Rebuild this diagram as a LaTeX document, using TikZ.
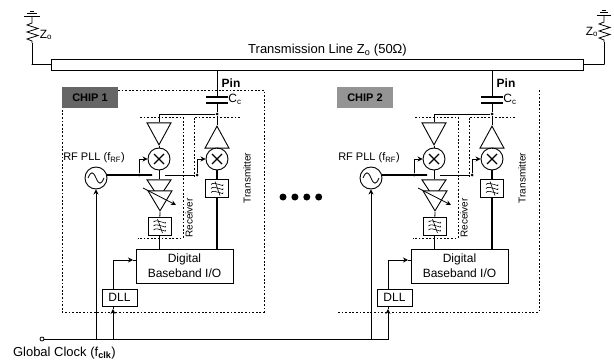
\documentclass[tikz,border=0pt]{standalone}
\usepackage{fontspec}
\setmainfont{Liberation Sans}
\usetikzlibrary{positioning,shapes,shapes.geometric,arrows.meta}

\begin{document}
\begin{tikzpicture}[x=1pt,y=-1pt,
    >={Stealth[length=5pt,width=5pt]},
    every node/.style={font=\fontsize{12}{15}\selectfont},
    wire/.style={line width=0.8pt},
    bus/.style={line width=1.7pt},
    ddot/.style={line width=0.8pt, dash pattern=on 1.8pt off 1.8pt},
    bb/.style={%
      rectangle, draw=black, line width=0.9pt, fill=white,
      inner sep=0pt, align=center
    },
    chiptag/.style={%
      rectangle, draw=none, minimum width=56pt, minimum height=21pt,
      inner sep=0pt, font=\fontsize{11}{12}\bfseries\selectfont
    },
    amp/.style={%
      isosceles triangle, isosceles triangle stretches, draw=black, line width=0.9pt,
      fill=white, minimum width=24pt, minimum height=22pt, inner sep=0pt, anchor=apex
    },
    ampup/.style={amp, shape border rotate=90},
    ampdn/.style={amp, shape border rotate=-90},
    mixer/.style={%
      circle, draw=black, line width=0.9pt, fill=white, minimum size=22pt, inner sep=0pt,
      path picture={%
        \draw[line width=1.3pt]
          ([shift={(-5,-5)}]path picture bounding box.center) -- ([shift={(5,5)}]path picture bounding box.center)
          ([shift={(-5,5)}]path picture bounding box.center) -- ([shift={(5,-5)}]path picture bounding box.center);
      }
    },
    osc/.style={%
      circle, draw=black, line width=0.9pt, fill=white, minimum size=22pt, inner sep=0pt,
      path picture={%
        \draw[line width=0.8pt] ([shift={(-8,0)}]path picture bounding box.center)
          .. controls +(3,-7) and +(-3,-7) .. ([shift={(0,0)}]path picture bounding box.center)
          .. controls +(3,7) and +(-3,7) .. ([shift={(8,0)}]path picture bounding box.center);
      }
    },
    filt/.style={%
      bb, minimum width=23pt, minimum height=18pt,
      path picture={%
        \foreach \dy in {-4,0,4} {
          \draw[line width=0.6pt] ([shift={(-6,\dy)}]path picture bounding box.center)
            .. controls +(3,-4) and +(3,4) .. ([shift={(6,\dy)}]path picture bounding box.center);
        }
        \draw[line width=0.6pt] ([shift={(-2,-7)}]path picture bounding box.center) -- ([shift={(3,7)}]path picture bounding box.center);
      }
    },
    jdot/.style={circle, fill=black, minimum size=3pt, inner sep=0pt},
    hollow/.style={circle, draw=black, line width=0.8pt, fill=white, minimum size=4pt, inner sep=0pt},
    bigdot/.style={circle, fill=black, minimum size=7pt, inner sep=0pt},
    plate/.style={line width=1.4pt},
    vtext/.style={rotate=90, font=\fontsize{10}{11}\selectfont}
]
    \useasboundingbox (0,0) rectangle (614,361);

    \node[bb, minimum width=532pt, minimum height=11.5pt] (tline) at (317,64.75) {};
    \node[font=\fontsize{13}{15}\selectfont] (tlabel) at (327.5,50) {Transmission Line Z\textsubscript{o} (50Ω)};

    % terminations
    \coordinate (gl) at (32,16);
    \coordinate (rl) at (32,43);
    \coordinate (gr) at (604,15);
    \coordinate (rr) at (604,42);
    \draw[wire] (tline.west) -- ++(-19,0) -| (rl);
    \draw[wire] (tline.east) -- ++(21,0) -| (rr);
    \draw[wire] (rl) -- ++(0,-2) -- ++(-5,-2) -- ++(11,-3.5) -- ++(-11,-3.5) -- ++(11,-3.5) -- ++(-11,-3.5) -- ++(5,-2) -- (gl);
    \draw[wire] (rr) -- ++(0,-2) -- ++(-5,-2) -- ++(11,-3.5) -- ++(-11,-3.5) -- ++(11,-3.5) -- ++(-11,-3.5) -- ++(5,-2) -- (gr);
    \draw[wire] (gl) ++(-8,0) -- ++(16,0) (gl) ++(-5,-3) -- ++(10,0) (gl) ++(-2,-5) -- ++(4,0);
    \draw[wire] (gr) ++(-7,0) -- ++(14,0) (gr) ++(-4,-3) -- ++(8,0) (gr) ++(-2,-5) -- ++(4,0);
    \node (zl) at (46,35) {Z\textsubscript{o}};
    \node (zr) at (592,32) {Z\textsubscript{o}};

    % clock
    \node[hollow] (clk) at (42,339) {};
    \coordinate (clkend) at (388,340);
    \node[font=\fontsize{13}{15}\selectfont] (clklabel) [anchor=west] at (9.5,353) {Global Clock (f\textsubscript{\textbf{clk}})};
    \draw[line width=1pt] (clk) -- (clk -| clkend) -- (clkend);

    % the two chips
    \foreach \c/\dx in {a/0,b/275} {
      \begin{scope}[xshift=\dx pt]
        \coordinate (tap\c) at (217,70.5);
        \coordinate (capt\c) at (217,97);
        \coordinate (capb\c) at (217,103);
        \coordinate (lol\c) at (152,175);
        \coordinate (lor\c) at (165,175);
        \coordinate (tapo\c) at (96,340);
        \coordinate (tapd\c) at (113,340);
        \coordinate (tipd\c) at (113,309);
        \coordinate (tipb\c) at (133,260);

        \node[jdot] (jtop\c) at (217,114) {};
        \node[ampdn] (rxamp\c) at (159,146) {};
        \node[ampup] (txamp\c) at (217,125) {};
        \node[mixer] (mixrx\c) at (159,159) {};
        \node[mixer] (mixtx\c) at (217,159) {};
        \node[osc] (vco\c) at (96,178) {};
        \node[jdot] (jrx\c) at (139,175) {};
        \node[jdot] (jtx\c) at (197,175) {};
        \node[ampdn, minimum height=18pt] (lnaa\c) at (159,199) {};
        \node[ampdn, minimum height=20pt] (lnab\c) at (160,212) {};
        \node[filt] (firx\c) at (159.5,226) {};
        \node[filt] (fitx\c) at (217,188.5) {};
        \node[bb, minimum width=97pt, minimum height=34pt] (dbb\c) at (184.5,266) {Digital\\Baseband I/O};
        \node[bb, minimum width=35pt, minimum height=17pt] (dll\c) at (119.5,297.5) {DLL};

        \node (pin\c) at (231,83) {\textbf{Pin}};
        \node (cc\c) at (235,99) {C\textsubscript{c}};
        \node[font=\fontsize{11}{13}\selectfont] (pll\c) at (94,158) {RF PLL (f\textsubscript{RF})};
        \node[vtext] (rxl\c) at (189,218) {Receiver};
        \node[vtext] (txl\c) at (247,178) {Transmitter};

        \draw[wire] (tap\c) -- (capt\c);
        \draw[wire] (capb\c) -- (jtop\c);
        \draw[wire] (jtop\c) -- (txamp\c.apex);
        \draw[wire] (jtop\c) -| (rxamp\c.lower side);
        \draw[plate] (capt\c) ++(-11,0) -- ++(22,0);
        \draw[plate] (capb\c) ++(-11,0) -- ++(22,0);
        \draw[wire] (rxamp\c.apex) -- (mixrx\c);
        \draw[wire] (txamp\c.lower side) -- (mixtx\c);
        \draw[wire] (mixrx\c) -- (lnaa\c.lower side);
        \draw[wire] (lnab\c.apex) -- (firx\c);
        \draw[bus] (firx\c) -- (firx\c |- dbb\c.north);
        \draw[bus] (mixtx\c) -- (fitx\c);
        \draw[bus] (fitx\c) -- (fitx\c |- dbb\c.north);
        \draw[bus] (vco\c.15) -- (lol\c);
        \draw[wire] (lor\c) -- (jtx\c);
        \draw[wire,->] (jrx\c) |- (mixrx\c);
        \draw[wire,->] (jtx\c) |- (mixtx\c);
        \draw[wire,->] (tapo\c) -- (vco\c);
        \draw[wire,->] (tapd\c) -- (tipd\c);
        \draw[wire] (tipd\c) -- (tapd\c |- dll\c.south);
        \draw[wire,->] (tapd\c |- dll\c.north) |- (tipb\c);
        \draw[wire] (tipb\c) -- (tipb\c -| dbb\c.west);
        \draw[wire,->] (143,188) -- (176,205);

        \draw[ddot] (140,117) -- (183,117) -- (183,238) -- (138,238);
        \draw[ddot] (240,117) -- (194,117) -- (194,178);
      \end{scope}
    }

    \node[chiptag, fill=black!60] (chipa) at (90,97.5) {CHIP 1};
    \node[chiptag, fill=black!42] (chipb) at (365,97.5) {CHIP 2};
    \draw[ddot] (118,90) -- (264,90) -- (264,312) -- (62,312) -- (62,110);
    \draw[ddot] (338,312) -- (539,312) -- (539,90);

    \node[bigdot] (d1) at (283,197) {};
    \node[bigdot] (d2) [right = 4.5pt of d1] {};
    \node[bigdot] (d3) [right = 4.5pt of d2] {};
    \node[bigdot] (d4) [right = 4.5pt of d3] {};
\end{tikzpicture}
\end{document}
